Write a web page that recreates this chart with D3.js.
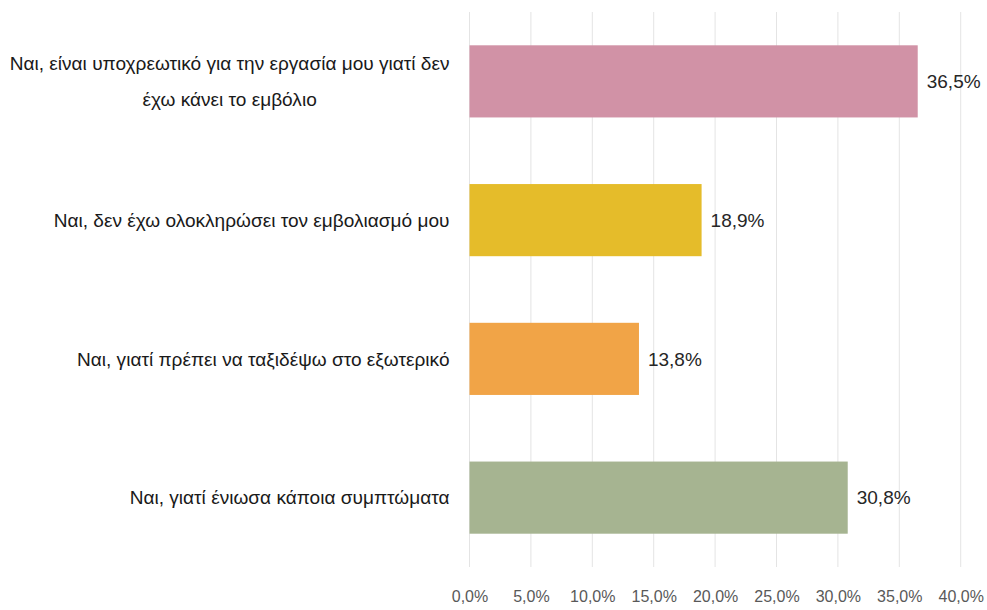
<!DOCTYPE html>
<html>
<head>
<meta charset="utf-8">
<script src="https://cdn.jsdelivr.net/npm/d3@7"></script>
<style>
  html, body { margin: 0; padding: 0; background: #ffffff; }
  svg { display: block; }
  svg text { font-family: "Liberation Sans", "DejaVu Sans", sans-serif; }
  svg text.cat { font-family: "Liberation Sans Narrow", "Liberation Sans", sans-serif; }
</style>
</head>
<body>
<svg id="chart" width="987" height="610"></svg>
<script>
// Answers (line breaks marked with \n) and their shares in percent
const categories = [
  "Ναι, είναι υποχρεωτικό για την εργασία μου γιατί δεν\nέχω κάνει το εμβόλιο",
  "Ναι, δεν έχω ολοκληρώσει τον εμβολιασμό μου",
  "Ναι, γιατί πρέπει να ταξιδέψω στο εξωτερικό",
  "Ναι, γιατί ένιωσα κάποια συμπτώματα"
];
const values = [36.5, 18.9, 13.8, 30.8];
const barColors = ["#d192a6", "#e5bc2a", "#f1a447", "#a6b491"];
const tickValues = [0, 5, 10, 15, 20, 25, 30, 35, 40];

const plot = { left: 469.5, right: 960.7, top: 12, bottom: 567 };

const locale = d3.formatLocale({ decimal: ",", thousands: ".", grouping: [3], currency: ["", "€"] });
const pct = v => locale.format(".1f")(v) + "%";

const svg = d3.select("#chart");

const x = d3.scaleLinear().domain([0, 40]).range([plot.left, plot.right]);
const y = d3.scaleBand().domain(categories).range([plot.top, plot.bottom]).paddingInner(0.48).paddingOuter(0.24);

// Vertical gridlines
svg.append("g")
  .selectAll("line")
  .data(tickValues)
  .join("line")
  .attr("x1", d => x(d)).attr("x2", d => x(d))
  .attr("y1", plot.top).attr("y2", plot.bottom)
  .attr("stroke", "#e4e4e4")
  .attr("stroke-width", 1);

// Bottom axis labels (no domain line, no tick marks)
const xAxis = d3.axisBottom(x).tickValues(tickValues).tickSize(0).tickPadding(0).tickFormat(pct);
const gx = svg.append("g").attr("transform", `translate(0,${plot.bottom + 35})`).call(xAxis);
gx.select(".domain").remove();
gx.attr("font-family", null);
gx.selectAll("text")
  .attr("font-size", 16)
  .attr("fill", "#595959")
  .attr("dy", "0");

// Bars
svg.append("g")
  .selectAll("rect")
  .data(categories)
  .join("rect")
  .attr("x", x(0))
  .attr("y", d => y(d))
  .attr("width", (d, i) => x(values[i]) - x(0))
  .attr("height", y.bandwidth())
  .attr("fill", (d, i) => barColors[i]);

// Value labels
svg.append("g")
  .selectAll("text")
  .data(categories)
  .join("text")
  .attr("x", (d, i) => x(values[i]) + 9)
  .attr("y", d => y(d) + y.bandwidth() / 2)
  .attr("dy", "0.35em")
  .attr("font-size", 19)
  .attr("fill", "#262626")
  .text((d, i) => pct(values[i]));

// Category labels: block right-aligned to the axis, lines centred within the block
const labelRight = plot.left - 20;
const maxLabelW = 440;
const lineH = 36;
let catSize = 25;
const catG = svg.append("g");
const blocks = categories.map(cat => {
  const lines = cat.split("\n");
  const cy = y(cat) + y.bandwidth() / 2;
  const g = catG.append("g");
  const texts = lines.map((ln, k) => g.append("text")
    .attr("class", "cat")
    .attr("y", cy + (k - (lines.length - 1) / 2) * lineH)
    .attr("dy", "0.35em")
    .attr("font-size", catSize)
    .attr("fill", "#1a1a1a")
    .attr("text-anchor", "middle")
    .text(ln));
  return texts;
});
// shrink the labels if the widest line does not fit in the left margin
const widest = d3.max(blocks.flat(), t => t.node().getComputedTextLength());
if (widest > maxLabelW) {
  catSize = catSize * maxLabelW / widest;
  blocks.flat().forEach(t => t.attr("font-size", catSize));
}
blocks.forEach(texts => {
  const maxW = d3.max(texts, t => t.node().getComputedTextLength());
  texts.forEach(t => t.attr("x", labelRight - maxW / 2));
});
</script>
</body>
</html>
